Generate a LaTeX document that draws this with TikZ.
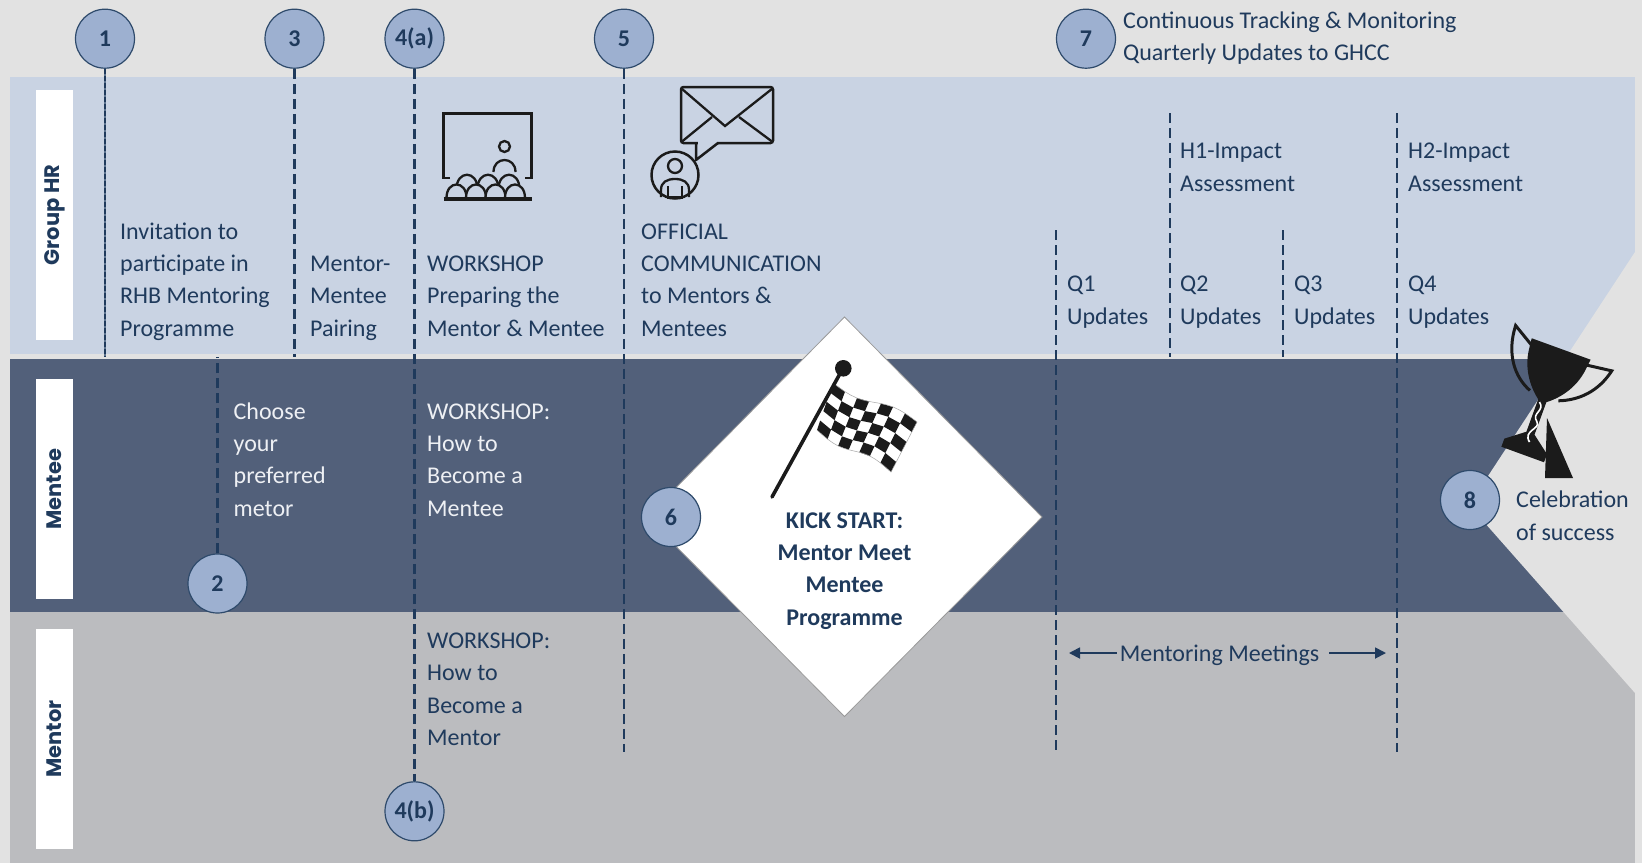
\documentclass[tikz,border=0pt]{standalone}
\usepackage{fontspec}
\setmainfont{Carlito}
\newfontfamily\lanefont{Poppins}
\usetikzlibrary{arrows.meta}

\definecolor{navy}{HTML}{1F3A5C}
\definecolor{hrband}{HTML}{C9D3E3}
\definecolor{menteeband}{HTML}{52607A}
\definecolor{mentorband}{HTML}{BBBCBF}
\definecolor{paper}{HTML}{E2E2E2}
\definecolor{stepfill}{HTML}{9DB0D0}
\definecolor{stepedge}{HTML}{2E4A6B}
\definecolor{lighttext}{HTML}{EEF0F4}
\definecolor{ink}{HTML}{1B1B1B}

\begin{document}
\begin{tikzpicture}[x=1pt,y=-1pt,
  body/.style={anchor=base west,inner sep=0pt,align=left,text=navy,
    font=\fontsize{24}{32.3}\selectfont},
  ondark/.style={body,text=lighttext},
  lanelabel/.style={fill=white,rotate=90,minimum width=250pt,minimum height=37pt,
    inner sep=0pt,text=navy,font=\lanefont\bfseries\fontsize{21}{24}\selectfont},
  stepdot/.style={circle,fill=stepfill,draw=stepedge,line width=1.2pt,
    minimum size=59pt,inner sep=0pt,text=navy,font=\bfseries\fontsize{24}{26}\selectfont},
  phase/.style={navy,line width=2.2pt,dash pattern=on 10pt off 5pt},
  icon/.style={ink,line width=2.5pt},
  arr/.style={navy,line width=1.8pt,-{Triangle[length=11pt,width=11pt]}},
  declare function={
    flagx(\u,\v)=833*(1-\u)*(1-\v)+917*\u*(1-\v)+891*\u*\v+817*(1-\u)*\v;
    flagy(\u,\v)=383*(1-\u)*(1-\v)+422*\u*(1-\v)+472*\u*\v+430*(1-\u)*\v+4*sin(360*\u);}]
  % lanes
  \fill[paper] (0,0) rectangle (1642,863);
  \useasboundingbox (0,0) rectangle (1642,863);
  \fill[hrband] (10,77) rectangle (1635,354);
  \fill[menteeband] (10,358.5) rectangle (1635,612);
  \fill[mentorband] (10,612) rectangle (1635,863);
  \fill[paper] (1635,252) -- (1469,505) -- (1635,693) -- cycle;
  \node[lanelabel] (hr) at (54.5,215) {Group HR};
  \node[lanelabel,minimum width=220pt] (mentee) at (54.5,489) {Mentee};
  \node[lanelabel,minimum width=220pt] (mentor) at (54.5,739) {Mentor};

  % kick-off diamond with flag
  \filldraw[fill=white,draw=gray!80,line width=0.8pt] (844.5,317) -- (1042,517) -- (844.5,716.5) -- (647,517) -- cycle;
  \fill[white] plot[variable=\t,domain=0:1,samples=15] ({flagx(\t,0)},{flagy(\t,0)}) -- plot[variable=\t,domain=1:0,samples=15] ({flagx(\t,1)},{flagy(\t,1)}) -- cycle;
  \foreach \i in {0,...,6}{
    \foreach \j in {0,...,4}{
      \pgfmathtruncatemacro\odd{mod(\i+\j,2)}
      \ifnum\odd=0
        \fill[ink] ({flagx(\i/7,\j/5)},{flagy(\i/7,\j/5)}) -- ({flagx((\i+1)/7,\j/5)},{flagy((\i+1)/7,\j/5)})
          -- ({flagx((\i+1)/7,(\j+1)/5)},{flagy((\i+1)/7,(\j+1)/5)}) -- ({flagx(\i/7,(\j+1)/5)},{flagy(\i/7,(\j+1)/5)}) -- cycle;
      \fi
    }
  }
  \draw[gray!70,line width=0.5pt] plot[variable=\t,domain=0:1,samples=15] ({flagx(\t,0)},{flagy(\t,0)}) -- plot[variable=\t,domain=1:0,samples=15] ({flagx(\t,1)},{flagy(\t,1)});
  \draw[ink,line width=3.6pt,line cap=round] (772,497) -- (842,370);
  \fill[ink] (843.3,368.3) circle[radius=8.3];
  \node[body,anchor=base,align=center,font=\bfseries\fontsize{24}{32.3}\selectfont] (kick) at (844.5,625) {KICK START:\\Mentor Meet\\Mentee\\Programme};

  % workshop board
  \draw[icon,line width=2.7pt] (450,178) -- (443.5,178) -- (443.5,113.5) -- (531.5,113.5) -- (531.5,178) -- (525,178);
  \draw[icon,line width=2.3pt] (504.5,146.5) circle[radius=5.5];
  \draw[icon,line width=2.3pt] (493.5,172) .. controls (493.5,156) and (515.5,156) .. (515.5,172);
  \foreach \cx in {467,488,509}
    \filldraw[icon,fill=hrband,line width=2.3pt] (\cx-10.5,189) .. controls (\cx-10.5,170) and (\cx+10.5,170) .. (\cx+10.5,189);
  \foreach \cx in {456.5,476,495.5,515}
    \filldraw[icon,fill=hrband,line width=2.3pt] (\cx-10,198) .. controls (\cx-10,180) and (\cx+10,180) .. (\cx+10,198);
  \draw[icon,line width=3.2pt] (443.5,199) -- (531.5,199);

  % mail and person
  \draw[icon,rounded corners=2.5pt] (681,87) rectangle (773,143);
  \draw[icon,line width=2.3pt] (681.5,88.5) -- (725,126) -- (772.5,88.5);
  \draw[icon,line width=2.3pt] (682,141.5) -- (712,117) (772,141.5) -- (739,117);
  \fill[hrband] (697.5,140.5) rectangle (716.5,145.5);
  \draw[icon,line join=round] (696,143) -- (696,160) -- (718,143);
  \draw[icon] (675,175) circle[radius=23.5];
  \draw[icon,line width=2.3pt] (675,166) circle[radius=7];
  \draw[icon,line width=2.3pt] (661,197) -- (661,190) .. controls (661,182) and (667,179) .. (675,179) .. controls (683,179) and (689,182) .. (689,190) -- (689,197);
  \draw[icon,line width=2.3pt] (668,186) -- (668,197.5) -- (682,197.5) -- (682,186);

  % trophy
  \begin{scope}[shift={(1560,352)},rotate=-20,scale=1.08]
    \fill[ink] (-29,-3) -- (29,-3) -- (28,6) .. controls (26,28) and (12,42) .. (4,48) -- (4,80) -- (21,93) -- (21,101) -- (-21,101) -- (-21,93) -- (-4,80) -- (-4,48) .. controls (-12,42) and (-26,28) .. (-28,6) -- cycle;
    \draw[ink,line width=3pt] (-27,3) -- (-47,-9) .. controls (-46,18) and (-32,36) .. (-14,43);
    \draw[ink,line width=3pt] (27,3) -- (51,0) .. controls (46,22) and (32,36) .. (14,43);
    \draw[white,line width=1.6pt] (-2,50) .. controls (6,56) and (-6,62) .. (2,68) .. controls (8,73) and (-8,80) .. (2,88);
  \end{scope}
  \fill[ink] (1547,418) -- (1573,478) -- (1545,478) -- cycle;

  % step markers
  \node[stepdot] (s1) at (105,38.7) {1};
  \node[stepdot] (s3) at (294.5,38.7) {3};
  \node[stepdot] (s4a) at (414.5,38.7) {4(a)};
  \node[stepdot] (s5) at (624,38.7) {5};
  \node[stepdot] (s7) at (1086,38.7) {7};
  \node[stepdot] (s2) at (217.5,583.5) {2};
  \node[stepdot] (s4b) at (414.5,811.3) {4(b)};
  \node[stepdot] (s6) at (671,517) {6};
  \node[stepdot] (s8) at (1470,500) {8};

  \coordinate (hrfoot) at (0,357);
  \coordinate (midfoot) at (0,752);
  \draw[stepedge!70!hrband,line width=1.2pt] (s1.south) -- (s1 |- hrfoot);
  \draw[phase,dash pattern=on 5pt off 2pt] (s1.south) -- (s1 |- hrfoot);
  \draw[phase] (s3.south) -- (s3 |- hrfoot);
  \draw[phase] (s4a.south) -- (s4b.north);
  \draw[phase] (s5.south) -- (s5 |- midfoot);
  \draw[phase] (s2.north) -- (s2 |- hrfoot);
  \foreach \xq/\ya/\yb in {1056/230/752,1170/113/357,1283/230/357,1397/113/752}
    \draw[phase] (\xq,\ya) -- (\xq,\yb);

  % texts
  \node[body] (invite) at (120,336) {Invitation to\\participate in\\RHB Mentoring\\Programme};
  \node[body] (pairing) at (310,336) {Mentor-\\Mentee\\Pairing};
  \node[body] (prep) at (427,336) {WORKSHOP\\Preparing the\\Mentor \& Mentee};
  \node[body] (comms) at (641,336) {OFFICIAL\\COMMUNICATION\\to Mentors \&\\Mentees};
  \foreach \q/\xq in {1/1067,2/1180,3/1294,4/1408}
    \node[body] (q\q) at (\xq,324) {Q\q\\Updates};
  \node[body] (h1) at (1180,191) {H1-Impact\\Assessment};
  \node[body] (h2) at (1408,191) {H2-Impact\\Assessment};
  \node[body] (track) at (1123,60.5) {Continuous Tracking \& Monitoring\\Quarterly Updates to GHCC};
  \node[ondark] (choose) at (233.5,516) {Choose\\your\\preferred\\metor};
  \node[ondark] (wsmentee) at (427,516) {WORKSHOP:\\How to\\Become a\\Mentee};
  \node[body] (wsmentor) at (427,745.5) {WORKSHOP:\\How to\\Become a\\Mentor};
  \node[body] (celebrate) at (1516,540) {Celebration\\of success};

  \node[body,anchor=base] (meet) at (1219.5,661) {Mentoring Meetings};
  \coordinate (meetL) at (1069,653);
  \coordinate (meetR) at (1386,653);
  \draw[arr,shorten <=3pt] (meet.west |- meetL) -- (meetL);
  \draw[arr,shorten <=10pt] (meet.east |- meetR) -- (meetR);
\end{tikzpicture}
\end{document}
